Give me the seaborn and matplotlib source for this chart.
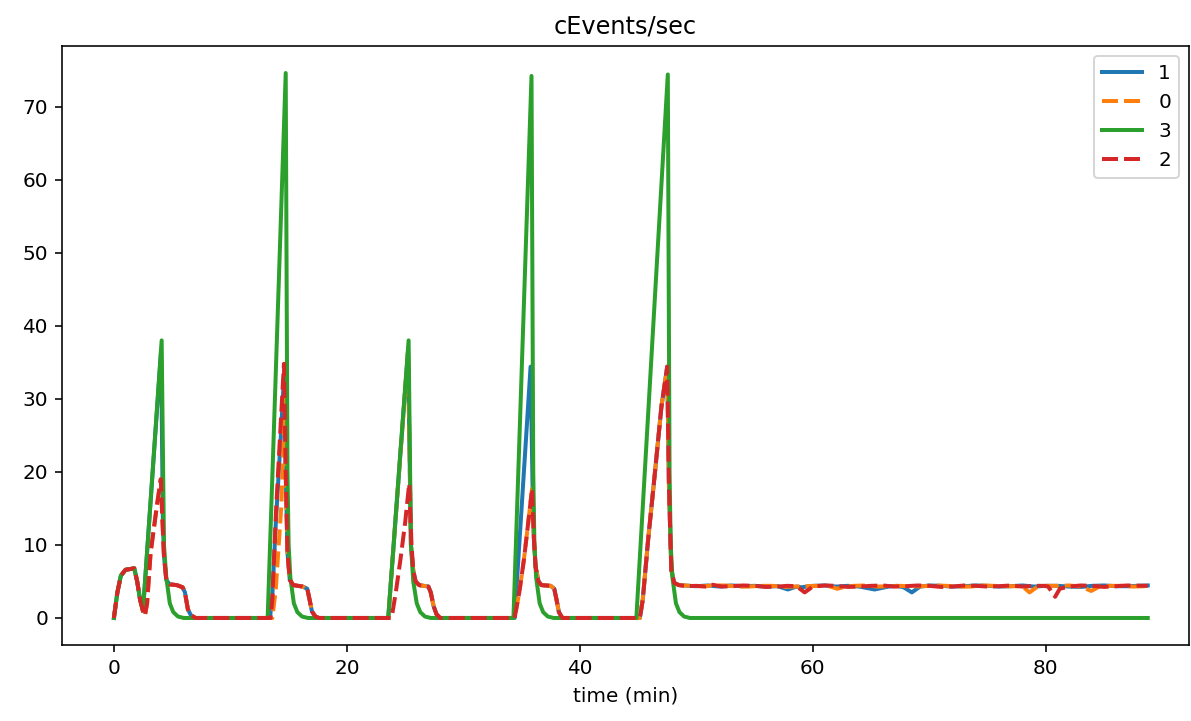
import matplotlib
matplotlib.use("Agg")
import matplotlib.pyplot as plt
import seaborn as sns
import pandas as pd

# device order as in the legend
devices = ["1", "0", "3", "2"]
colors = ["#1f77b4", "#ff7f0e", "#2ca02c", "#d62728"]

# shared start bump (first ~2.5 min)
start_t = [0, 0.3, 0.6, 1.0, 1.4, 1.75, 2.0, 2.25]
start_v = [0, 3.5, 5.8, 6.6, 6.7, 6.8, 5.0, 2.5]

# device 3 (green)
t3 = start_t + [2.5, 4.1, 4.3, 4.5, 4.8, 5.1, 5.5, 6.0,
                13.2, 14.75, 14.9, 15.0, 15.15, 15.45, 15.75, 16.15, 16.65,
                23.55, 25.3, 25.5, 25.7, 26.0, 26.3, 26.7, 27.2,
                34.3, 35.85, 36.0, 36.1, 36.25, 36.55, 36.85, 37.25, 37.75,
                44.85, 47.55, 47.7, 47.8, 47.95, 48.25, 48.55, 48.95, 49.45, 88.75]
v3 = start_v + [1.0, 38.0, 10.0, 5.5, 2.0, 0.8, 0.2, 0,
                0, 74.6, 20.0, 10.0, 5.5, 2.0, 0.8, 0.2, 0,
                0, 38.0, 10.0, 5.0, 2.0, 0.8, 0.2, 0,
                0, 74.2, 20.0, 10.0, 5.5, 2.0, 0.8, 0.2, 0,
                0, 74.4, 20.0, 10.0, 5.5, 2.0, 0.8, 0.2, 0, 0]

# segments shared by the other three devices
c1_tail_t = [4.3, 4.5, 4.8, 5.4, 5.9, 6.1, 6.35, 6.6, 7.0]
c1_tail_v = [8.5, 5.2, 4.6, 4.5, 4.2, 3.5, 1.2, 0.4, 0]
c2_tail_t = [14.9, 15.1, 15.4, 16.2, 16.6, 16.8, 17.0, 17.3, 17.6]
c2_tail_v = [9.0, 5.2, 4.5, 4.3, 4.0, 2.5, 0.9, 0.2, 0]
c3_tail_t = [25.7, 25.9, 26.2, 27.0, 27.2, 27.45, 27.7, 28.0]
c3_tail_v = [6.5, 5.0, 4.5, 4.3, 3.5, 1.6, 0.5, 0]
c4_t = [34.4, 34.8, 35.2, 35.6, 35.9, 36.05, 36.2, 36.45, 36.7, 37.5, 37.8, 38.0, 38.2, 38.5]
c4_v = [0, 3.5, 8.0, 13.5, 17.7, 11.0, 7.0, 5.0, 4.5, 4.4, 4.0, 2.5, 0.8, 0]
c5_t = [45.15, 45.4, 45.86, 46.44, 47.0, 47.5, 47.65, 47.85, 48.1, 48.5]
c5_v = [0, 2.5, 10.7, 19.8, 28.9, 34.4, 18.0, 6.6, 4.8, 4.5]

# device 2 (red)
t2 = (start_t + [2.5, 2.66, 2.85, 3.15, 3.72, 4.03, 4.15] + c1_tail_t
      + [13.45, 13.6, 13.9, 14.3, 14.6, 14.75] + c2_tail_t
      + [23.84, 24.2, 24.6, 25.0, 25.35, 25.55] + c3_tail_t
      + c4_t + c5_t
      + [49.2, 50, 50.8, 51.4, 52.2, 53, 54, 55, 56, 57, 57.8, 58.6, 59.3, 60, 61, 62,
         63, 64, 65, 66, 67, 68, 69, 70, 71, 72, 73, 74, 75, 76, 77, 78, 79,
         79.8, 80.2, 80.8, 81.2, 82, 83, 84, 85, 86, 87, 88.75])
v2 = (start_v + [0.9, 0.3, 2.0, 8.9, 15.7, 19.0, 14.0] + c1_tail_v
      + [0, 2.5, 14.0, 26.0, 34.8, 20.0] + c2_tail_v
      + [0, 3.5, 8.0, 13.0, 18.4, 10.0] + c3_tail_v
      + c4_v + c5_v
      + [4.35, 4.4, 4.3, 4.55, 4.3, 4.35, 4.45, 4.4, 4.25, 4.3, 4.4, 4.35, 3.5, 4.3, 4.45, 4.4,
         4.25, 4.3, 4.4, 4.45, 4.3, 4.35, 4.45, 4.4, 4.25, 4.3, 4.45, 4.4, 4.3, 4.35, 4.45, 4.3, 4.4,
         4.4, 4.3, 2.9, 4.0, 4.3, 4.45, 4.4, 4.25, 4.35, 4.45, 4.4])

# device 1 (blue)
t1 = (start_t + [2.5, 4.05, 4.2] + c1_tail_t
      + [13.4, 13.6, 13.9, 14.3, 14.62, 14.75] + c2_tail_t
      + [23.55, 25.25, 25.5] + c3_tail_t
      + [34.4, 35.77, 35.95, 36.05, 36.2, 36.45, 36.7, 37.5, 37.8, 38.0, 38.2, 38.5]
      + c5_t
      + [49.4, 50, 51, 52, 53, 54, 55, 56, 57, 57.85, 58.6, 59, 60, 61, 62, 63, 64,
         65.3, 66.5, 67.2, 67.8, 68.5, 69.2, 70, 71, 72, 73, 74, 75, 76, 77, 78, 79,
         80, 81, 82, 83, 84, 85, 86, 87, 88.75])
v1 = (start_v + [1.0, 36.5, 14.0] + c1_tail_v
      + [0, 3.0, 13.0, 24.0, 33.5, 20.0] + c2_tail_v
      + [0, 36.5, 10.0] + c3_tail_v
      + [0, 34.4, 17.0, 11.0, 7.0, 5.0, 4.5, 4.4, 4.0, 2.5, 0.8, 0]
      + c5_v
      + [4.4, 4.35, 4.45, 4.3, 4.45, 4.35, 4.4, 4.3, 4.35, 3.9, 4.3, 4.2, 4.4, 4.45, 4.3, 4.4, 4.3,
         3.9, 4.3, 4.4, 4.2, 3.5, 4.3, 4.45, 4.4, 4.3, 4.35, 4.45, 4.4, 4.3, 4.35, 4.45, 4.3,
         4.4, 4.4, 4.3, 4.25, 4.4, 4.45, 4.35, 4.35, 4.45])

# device 0 (orange)
t0 = (start_t + [2.5, 2.66, 2.85, 3.15, 3.72, 4.03, 4.15] + c1_tail_t
      + [13.6, 13.9, 14.37, 14.7, 14.8] + c2_tail_t
      + [23.55, 25.25, 25.5] + c3_tail_t
      + c4_t + c5_t
      + [49.5, 50.5, 51.5, 52.5, 53.5, 54.5, 55.5, 56.5, 57.5, 58.5, 59.5, 60.5, 61.4,
         62.1, 62.8, 63.5, 64.5, 65.5, 66.5, 67.5, 68.5, 69.5, 70.5, 71.5, 72.5, 73.5,
         74.5, 75.5, 76.5, 77.5, 78.1, 78.6, 79.3, 80, 81, 82, 83, 83.9, 84.6, 85.5,
         86.5, 87.5, 88.75])
v0 = (start_v + [0.9, 0.3, 2.0, 8.9, 15.7, 19.0, 14.0] + c1_tail_v
      + [0, 4.0, 15.3, 30.0, 18.0] + c2_tail_v
      + [0, 36.5, 10.0] + c3_tail_v
      + c4_v + c5_v
      + [4.4, 4.35, 4.45, 4.45, 4.3, 4.3, 4.4, 4.4, 4.25, 4.3, 4.35, 4.4, 4.35,
         4.0, 4.3, 4.4, 4.45, 4.3, 4.35, 4.4, 4.3, 4.35, 4.45, 4.4, 4.3, 4.3,
         4.45, 4.4, 4.35, 4.35, 4.2, 3.5, 4.3, 4.4, 4.4, 4.45, 4.3, 3.7, 4.3, 4.4,
         4.4, 4.3, 4.35])

series = {"1": (t1, v1), "0": (t0, v0), "3": (t3, v3), "2": (t2, v2)}
frames = []
for name in devices:
    t, v = series[name]
    frames.append(pd.DataFrame({"time (min)": t, "value": v, "device": name}))
df = pd.concat(frames, ignore_index=True)

fig = plt.figure(figsize=(1191 / 144, 721 / 144), dpi=144)
ax = fig.add_axes([0.0521, 0.1054, 0.9463, 0.8308])

sns.lineplot(data=df, x="time (min)", y="value", hue="device", style="device",
             hue_order=devices, style_order=devices,
             palette=dict(zip(devices, colors)),
             dashes={"1": "", "0": (4, 1.5), "3": "", "2": (4, 1.5)},
             estimator=None, linewidth=2, ax=ax)

ax.set_xlim(-4.45, 92.3)
ax.set_ylim(-3.7, 78.3)
ax.set_title("cEvents/sec")
ax.set_xlabel("time (min)")
ax.set_ylabel("")
leg = ax.legend(loc="upper right")
leg.set_title("")

fig.savefig("out.png", dpi=144)
